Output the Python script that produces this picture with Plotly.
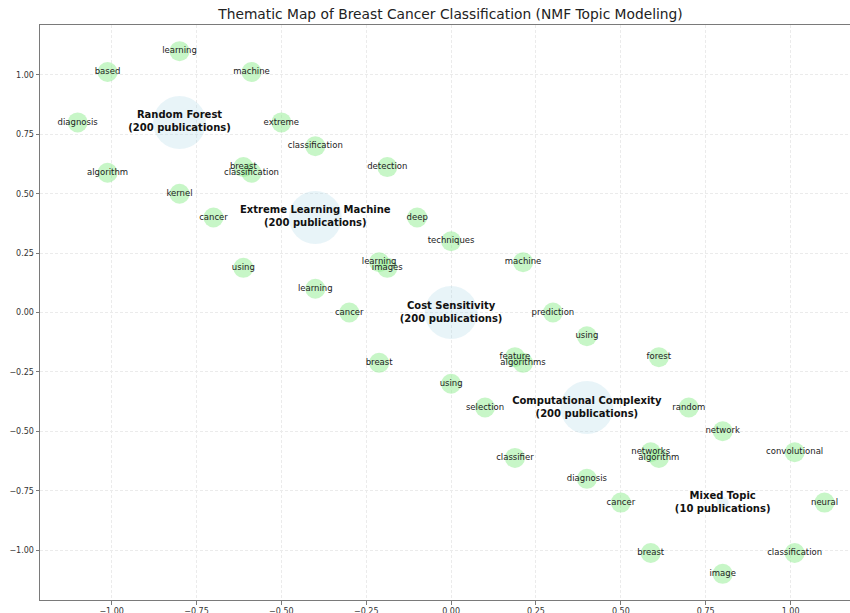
import plotly.graph_objects as go

# ---- data ----
topic_names = ["Random Forest", "Extreme Learning Machine", "Cost Sensitivity",
               "Computational Complexity", "Mixed Topic"]
topic_x = [-0.8, -0.4, 0.0, 0.4, 0.8]
topic_y = [0.8, 0.4, 0.0, -0.4, -0.8]
topic_pubs = [200, 200, 200, 200, 10]

kw_words = [
    # Random Forest
    "extreme", "machine", "learning", "based", "diagnosis", "algorithm", "kernel", "classification",
    # Extreme Learning Machine
    "deep", "detection", "classification", "breast", "cancer", "using", "learning", "images",
    # Cost Sensitivity
    "prediction", "machine", "techniques", "learning", "cancer", "breast", "using", "algorithms",
    # Computational Complexity
    "random", "forest", "using", "feature", "selection", "classifier", "diagnosis", "algorithm",
    # Mixed Topic
    "neural", "convolutional", "network", "networks", "cancer", "breast", "image", "classification",
]
kw_x = [
    -0.5, -0.588, -0.8, -1.012, -1.1, -1.012, -0.8, -0.588,
    -0.1, -0.188, -0.4, -0.612, -0.7, -0.612, -0.4, -0.188,
    0.3, 0.212, 0.0, -0.212, -0.3, -0.212, 0.0, 0.212,
    0.7, 0.612, 0.4, 0.188, 0.1, 0.188, 0.4, 0.612,
    1.1, 1.012, 0.8, 0.588, 0.5, 0.588, 0.8, 1.012,
]
kw_y = [
    0.8, 1.012, 1.1, 1.012, 0.8, 0.588, 0.5, 0.588,
    0.4, 0.612, 0.7, 0.612, 0.4, 0.188, 0.1, 0.188,
    0.0, 0.212, 0.3, 0.212, 0.0, -0.212, -0.3, -0.212,
    -0.4, -0.188, -0.1, -0.188, -0.4, -0.612, -0.7, -0.612,
    -0.8, -0.588, -0.5, -0.588, -0.8, -1.012, -1.1, -1.012,
]

tick_vals = [-1.0, -0.75, -0.5, -0.25, 0.0, 0.25, 0.5, 0.75, 1.0]
x_tick_text = ["\u22121.00", "\u22120.75", "\u22120.50", "\u22120.25", "0.00", "0.25", "0.50", "0.75", "1.00"]
y_tick_text = x_tick_text

title_text = "Thematic Map of Breast Cancer Classification (NMF Topic Modeling)"

# ---- figure ----
FONT = "DejaVu Sans"
topic_sizes = [53 * (p / 200) ** 0.5 for p in topic_pubs]
topic_labels = [f"{n}<br>({p} publications)" for n, p in zip(topic_names, topic_pubs)]

fig = go.Figure()

# topic bubbles
fig.add_trace(go.Scatter(
    x=topic_x, y=topic_y, mode="markers",
    marker=dict(size=topic_sizes, color="rgba(173,216,230,0.4)", line=dict(width=0)),
    hoverinfo="skip", showlegend=False,
))

# keyword bubbles
fig.add_trace(go.Scatter(
    x=kw_x, y=kw_y, mode="markers",
    marker=dict(size=20, color="rgba(144,238,144,0.5)", line=dict(width=0)),
    hoverinfo="skip", showlegend=False,
))

# keyword labels
fig.add_trace(go.Scatter(
    x=kw_x, y=kw_y, mode="text", text=kw_words, textposition="middle center",
    textfont=dict(family=FONT, size=8.5, color="#222222"),
    hoverinfo="skip", showlegend=False,
))

# topic labels
fig.add_trace(go.Scatter(
    x=topic_x, y=topic_y, mode="text", text=topic_labels, textposition="middle center",
    textfont=dict(family=FONT, size=10, color="#111111", weight="bold"),
    hoverinfo="skip", showlegend=False,
))

axis_common = dict(
    tickvals=tick_vals,
    showgrid=True, gridcolor="#ebebeb", griddash="3px,2px", gridwidth=1,
    zeroline=False,
    showline=True, linecolor="#7a7a7a", linewidth=1,
    ticks="outside", ticklen=3.5, tickcolor="#7a7a7a",
    tickfont=dict(family=FONT, size=8, color="#333333"),
    automargin=False,
)

fig.update_layout(
    width=850, height=613,
    margin=dict(l=40, r=0, t=25, b=13, autoexpand=False),
    paper_bgcolor="white", plot_bgcolor="white",
    title=dict(text=title_text, x=450.5 / 850, xanchor="center", xref="container",
               y=1 - 14 / 613, yref="container", yanchor="middle", automargin=False,
               font=dict(family=FONT, size=13.8, color="#222222")),
    xaxis=dict(range=[-1.211, 1.175], ticktext=x_tick_text, mirror=True, **axis_common),
    yaxis=dict(range=[-1.21, 1.21], ticktext=y_tick_text, **axis_common),
    showlegend=False,
)

fig.write_html("out.html",
               config={"displayModeBar": False},
               post_script="document.body.style.margin='0';document.body.style.overflow='hidden';")
